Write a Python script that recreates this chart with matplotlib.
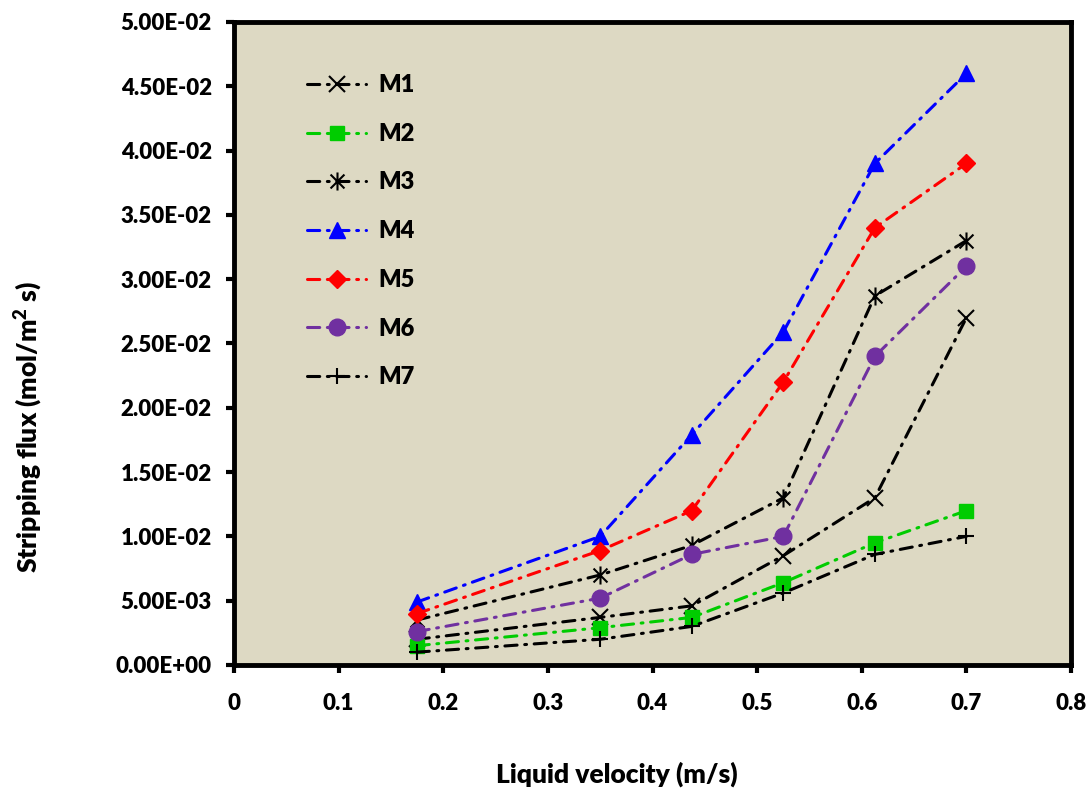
import numpy as np
import matplotlib
matplotlib.use('Agg')
import matplotlib.pyplot as plt
from matplotlib.path import Path
from matplotlib.ticker import FuncFormatter, MultipleLocator

plt.rcParams.update({
    'font.family': ['Lato', 'DejaVu Sans'],
    'font.size': 16,
    'font.weight': 'heavy',
    'mathtext.fontset': 'custom',
    'mathtext.bf': 'Lato:heavy',
    'mathtext.rm': 'Lato:heavy',
})

velocity = [0.175, 0.35, 0.4375, 0.525, 0.6125, 0.7]
m1 = [0.0020, 0.0037, 0.0046, 0.0085, 0.0130, 0.0270]
m2 = [0.0015, 0.0029, 0.0037, 0.0064, 0.0095, 0.0120]
m3 = [0.0035, 0.0070, 0.0093, 0.0130, 0.0287, 0.0330]
m4 = [0.0049, 0.0100, 0.0179, 0.0259, 0.0390, 0.0460]
m5 = [0.0040, 0.0089, 0.0120, 0.0220, 0.0340, 0.0390]
m6 = [0.0026, 0.0052, 0.0086, 0.0100, 0.0240, 0.0310]
m7 = [0.0010, 0.0020, 0.0030, 0.0056, 0.0086, 0.0100]
labels = ['M1', 'M2', 'M3', 'M4', 'M5', 'M6', 'M7']

# excel-like asterisk: x with a vertical bar
asterisk = Path([(-1, -1), (1, 1), (-1, 1), (1, -1), (0, -1.3), (0, 1.3)],
                [Path.MOVETO, Path.LINETO, Path.MOVETO, Path.LINETO,
                 Path.MOVETO, Path.LINETO])

series = [m1, m2, m3, m4, m5, m6, m7]
colors = ['black', '#00CC00', 'black', '#0000FF', '#FF0000', '#7030A0', 'black']
markers = ['x', 's', asterisk, '^', 'D', 'o', '+']
sizes = [11, 10, 13, 12, 9, 12, 12]

fig = plt.figure(figsize=(10.92, 7.88), dpi=100)
ax = fig.add_axes([0.2143, 0.1561, 0.9808 - 0.2143, 0.9721 - 0.1561])
ax.set_facecolor('#DDD9C3')

for i, y in enumerate(series):
    hollow = markers[i] in ('x', '+') or markers[i] is asterisk
    ax.plot(velocity, y, color=colors[i], lw=2.2,
            linestyle=(0, (4, 2.5, 0.6, 2.5)), dash_capstyle='round',
            marker=markers[i], markersize=sizes[i],
            markerfacecolor=colors[i], markeredgecolor=colors[i],
            markeredgewidth=1.5 if hollow else 1.0,
            label=labels[i])

ax.set_xlim(0, 0.8)
ax.set_ylim(0, 0.05)
ax.xaxis.set_major_locator(MultipleLocator(0.1))
ax.yaxis.set_major_locator(MultipleLocator(0.005))
ax.xaxis.set_major_formatter(FuncFormatter(lambda v, p: '0' if abs(v) < 1e-9 else f'{v:.1f}'))
ax.yaxis.set_major_formatter(FuncFormatter(lambda v, p: f'{v:.2E}'))

for s in ax.spines.values():
    s.set_linewidth(3.5)
ax.tick_params(direction='out', length=6, width=3, labelsize=16)
ax.tick_params(axis='x', pad=14)
ax.tick_params(axis='y', pad=10)

fig.text(617 / 1092, 1 - 774 / 788, 'Liquid velocity (m/s)', fontsize=19,
         fontweight='heavy', ha='center', va='center')
fig.text(28 / 1092, 1 - 427 / 788, 'Stripping flux (mol/m$^\\mathbf{2}$ s)', fontsize=19,
         fontweight='heavy', ha='center', va='center', rotation=90)

ax.legend(loc='upper left', bbox_to_anchor=(0.062, 0.952), frameon=False,
          labelspacing=1.13, handlelength=2.5, handletextpad=0.5,
          numpoints=1, prop={'size': 17, 'weight': 'heavy'})

fig.savefig('out.png', dpi=100)
